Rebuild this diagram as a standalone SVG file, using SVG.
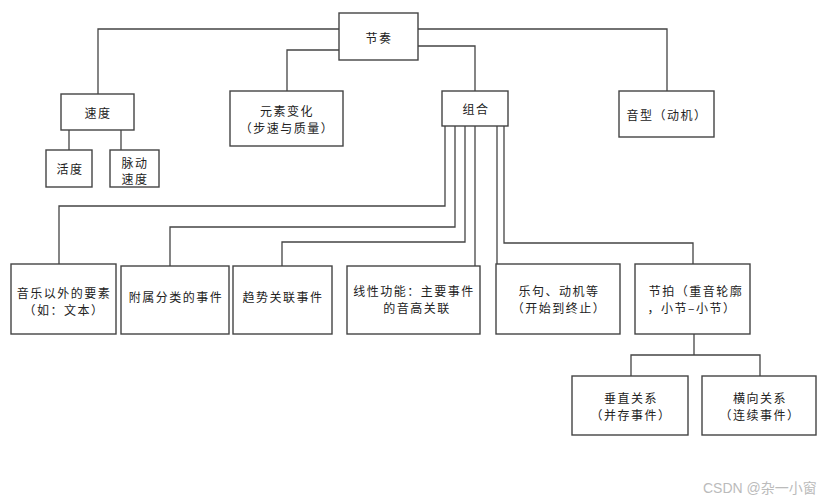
<svg xmlns="http://www.w3.org/2000/svg" width="831" height="503" viewBox="0 0 831 503">
<style>
.box{fill:#fff;stroke:#444;stroke-width:1.4}
.ln{fill:none;stroke:#444;stroke-width:1.3}
text{font-family:"Noto Sans CJK SC","Noto Sans",sans-serif;font-size:12px;fill:#222;text-anchor:middle;dominant-baseline:central;letter-spacing:1.5px}
.wm{font-family:"Liberation Sans","Noto Sans CJK SC",sans-serif;font-size:14px;fill:#bbb;letter-spacing:0;text-anchor:start}
</style>
<rect width="831" height="503" fill="#fff"/>
<g id="connectors">
<path class="ln" d="M339 29H98V94"/>
<path class="ln" d="M339 50H287V91"/>
<path class="ln" d="M418 29H667V91"/>
<path class="ln" d="M418 46H475V91"/>
<path class="ln" d="M69 130V150"/>
<path class="ln" d="M121 130V150"/>
<path class="ln" d="M445 126V206H59V264"/>
<path class="ln" d="M455 126V227H170V266"/>
<path class="ln" d="M465 126V242H282V266"/>
<path class="ln" d="M475 126V266"/>
<path class="ln" d="M497 126V264"/>
<path class="ln" d="M504 126V243H693V264"/>
<path class="ln" d="M694 334V355"/>
<path class="ln" d="M631 376V355H760V376"/>
</g>
<g id="n-jiezou"><rect class="box" x="339" y="13" width="79" height="47"/><text x="379" y="37">节奏</text></g>
<g id="n-sudu"><rect class="box" x="61" y="94" width="73" height="36"/><text x="98" y="112">速度</text></g>
<g id="n-huodu"><rect class="box" x="46" y="150" width="46" height="37"/><text x="70" y="168">活度</text></g>
<g id="n-maidong"><rect class="box" x="110" y="150" width="49" height="37"/><text x="135" y="162">脉动</text><text x="135" y="178">速度</text></g>
<g id="n-yuansu"><rect class="box" x="230" y="91" width="113" height="55"/><text x="287" y="110">元素变化</text><text x="287" y="127">（步速与质量）</text></g>
<g id="n-zuhe"><rect class="box" x="442" y="91" width="66" height="35"/><text x="476" y="108">组合</text></g>
<g id="n-yinxing"><rect class="box" x="619" y="91" width="95" height="46"/><text x="667" y="114">音型（动机）</text></g>
<g id="n-yinyue"><rect class="box" x="11" y="264" width="105" height="70"/><text x="64" y="292">音乐以外的要素</text><text x="64" y="309">（如：文本）</text></g>
<g id="n-fushu"><rect class="box" x="121" y="266" width="108" height="68"/><text x="176" y="296">附属分类的事件</text></g>
<g id="n-qushi"><rect class="box" x="233" y="266" width="99" height="68"/><text x="283" y="296">趋势关联事件</text></g>
<g id="n-xianxing"><rect class="box" x="347" y="266" width="133" height="68"/><text x="414" y="290">线性功能：主要事件</text><text x="417" y="307">的音高关联</text></g>
<g id="n-yueju"><rect class="box" x="496" y="264" width="124" height="70"/><text x="559" y="290">乐句、动机等</text><text x="559" y="307">（开始到终止）</text></g>
<g id="n-jiepai"><rect class="box" x="635" y="264" width="115" height="70"/><text x="696" y="290">节拍（重音轮廓</text><text x="692" y="307">，小节–小节）</text></g>
<g id="n-chuizhi"><rect class="box" x="572" y="376" width="116" height="59"/><text x="631" y="397">垂直关系</text><text x="631" y="414">（并存事件）</text></g>
<g id="n-hengxiang"><rect class="box" x="702" y="376" width="114" height="59"/><text x="760" y="397">横向关系</text><text x="760" y="414">（连续事件）</text></g>
<text class="wm" x="703" y="488">CSDN @杂一小窗</text>
</svg>
